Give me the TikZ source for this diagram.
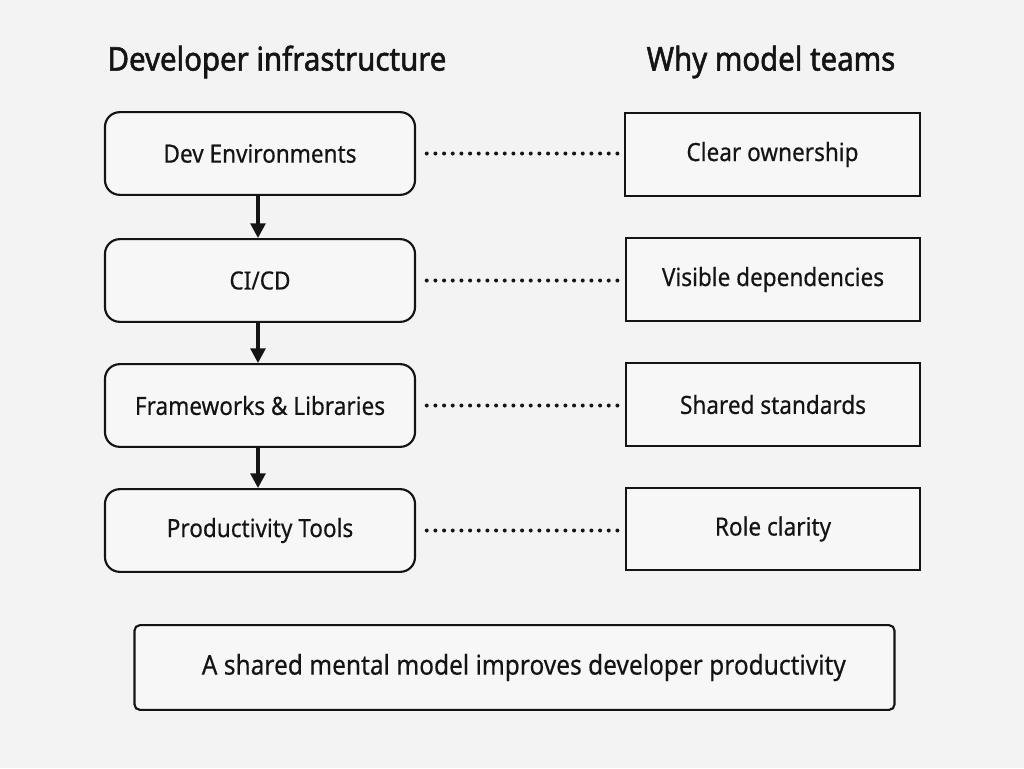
\documentclass[tikz,border=0pt]{standalone}
\usepackage{fontspec}
\setmainfont{Noto Sans}
\newfontfamily\bodyfont{Noto Sans}[FakeStretch=0.9,FakeBold=0.4]
\newfontfamily\titlefont{Noto Sans}[FakeBold=1.6,FakeStretch=0.9]
\usetikzlibrary{arrows.meta}
\definecolor{bg}{RGB}{243,243,243}
\definecolor{boxfill}{RGB}{247,247,247}
\definecolor{ink}{RGB}{20,20,20}
\tikzset{
  lbox/.style={draw=ink, line width=1.6pt, rounded corners=11pt, fill=boxfill,
    minimum width=232.5pt, minimum height=62pt, inner sep=0pt, font=\bodyfont\fontsize{18.8}{22}\selectfont, text=ink},
  rbox/.style={draw=ink, line width=1.6pt, fill=boxfill,
    minimum width=221pt, minimum height=62pt, inner sep=0pt, font=\bodyfont\fontsize{18.8}{22}\selectfont, text=ink},
  title/.style={font=\titlefont\fontsize{24.5}{28}\selectfont, text=ink, inner sep=0pt},
  flow/.style={draw=ink, line width=2.5pt, -{Triangle[length=11pt,width=11pt]}},
  dots/.style={draw=ink, line width=3pt, line cap=round, dash pattern=on 0pt off 6.5pt},
}
\begin{document}
\begin{tikzpicture}[x=0.75pt,y=-0.75pt]
\fill[bg] (0,0) rectangle (1024,768);
\useasboundingbox (0,0) rectangle (1024,768);
\node[title] (t1) at (277,62) {Developer infrastructure};
\node[title] (t2) at (771,62) {Why model teams};
\node[lbox] (l1) at (260,153.5) {Dev Environments};
\node[lbox] (l2) at (260,280.5) {CI/CD};
\node[lbox] (l3) at (260,405.5) {Frameworks \& Libraries};
\node[lbox] (l4) at (260,530.5) {Productivity Tools};
\node[rbox] (r1) at (772.5,154.5) {Clear ownership};
\node[rbox] (r2) at (773,279.5) {Visible dependencies};
\node[rbox] (r3) at (773,404.5) {Shared standards};
\node[rbox] (r4) at (773,529) {Role clarity};
\draw[flow] (l1.south -| 258,0) -- (l2.north -| 258,0);
\draw[flow] (l2.south -| 258,0) -- (l3.north -| 258,0);
\draw[flow] (l3.south -| 258,0) -- (l4.north -| 258,0);
\foreach \i in {1,2,3,4} {
  \draw[dots] ([xshift=8pt]l\i.east) -- ([xshift=-4pt]r\i.west |- l\i.east);
}
\node[draw=ink, line width=1.6pt, rounded corners=4pt, fill=boxfill,
  minimum width=570pt, minimum height=63.5pt, inner sep=0pt,
  font=\bodyfont\fontsize{20.4}{24}\selectfont, text=ink] (b) at (514.5,667.5) {\hspace*{14pt}A shared mental model improves developer productivity};
\end{tikzpicture}
\end{document}
